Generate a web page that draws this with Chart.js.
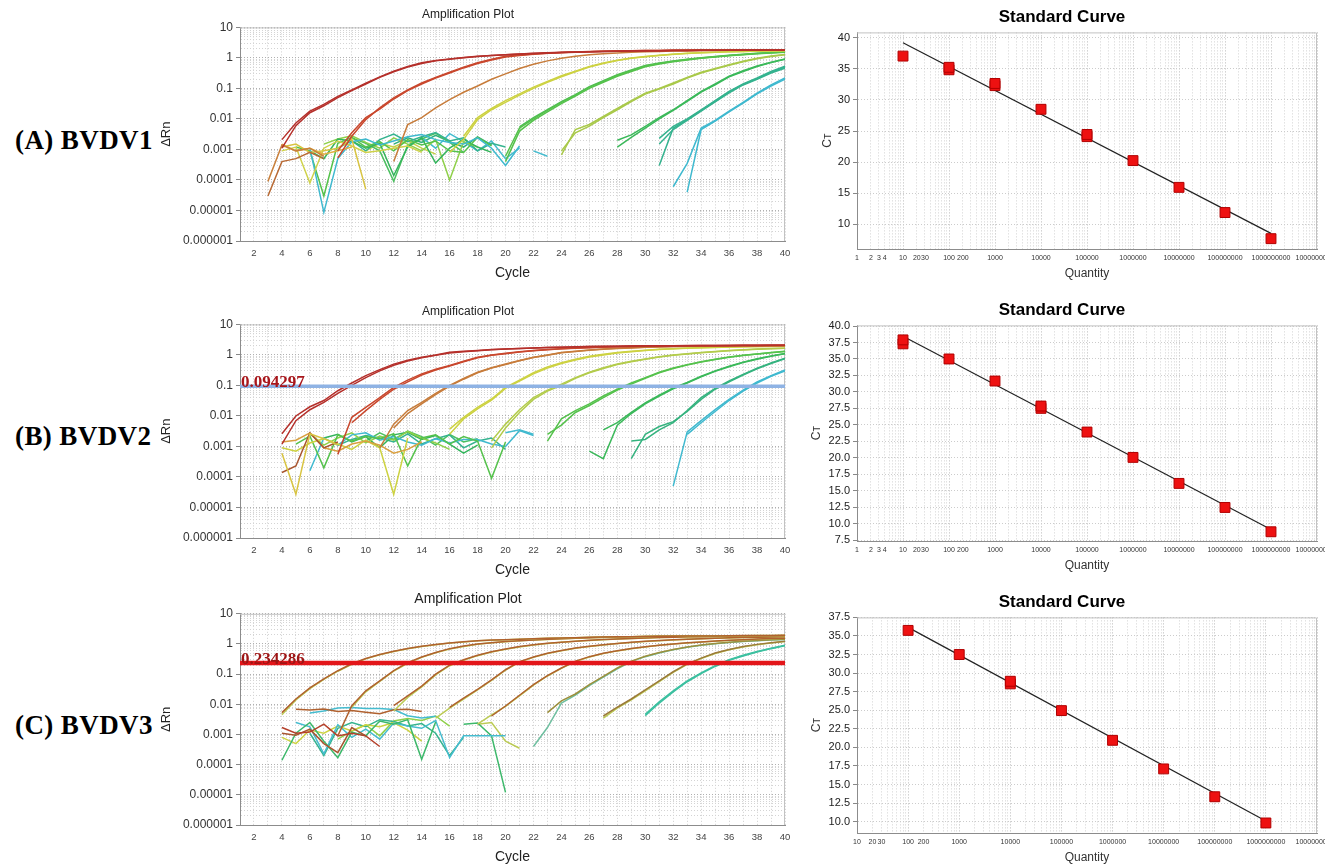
<!DOCTYPE html>
<html>
<head>
<meta charset="utf-8">
<title>BVDV qPCR</title>
<script src="https://cdn.jsdelivr.net/npm/chart.js@4.4.1/dist/chart.umd.min.js"></script>
<style>
html, body { margin: 0; padding: 0; background: #fff; width: 1325px; height: 865px; overflow: hidden; }
canvas { position: absolute; }
.panel { position: absolute; left: 15px; font: bold 27px "Liberation Serif", "Times New Roman", serif; line-height: 30px; color: #000; white-space: nowrap; letter-spacing: 0.4px; }
</style>
</head>
<body>
<div class="panel" style="top:125px">(A) BVDV1</div>
<div class="panel" style="top:421px">(B) BVDV2</div>
<div class="panel" style="top:710px">(C) BVDV3</div>
<canvas id="ampA" width="646" height="286" style="left:151px;top:0px"></canvas>
<canvas id="ampB" width="646" height="286" style="left:151px;top:297px"></canvas>
<canvas id="ampC" width="646" height="286" style="left:151px;top:584px"></canvas>
<canvas id="stdA" width="519" height="290" style="left:806px;top:0px"></canvas>
<canvas id="stdB" width="519" height="289" style="left:806px;top:293px"></canvas>
<canvas id="stdC" width="519" height="289" style="left:806px;top:585px"></canvas>
<script>
// amplification plot axes
const cycleMin = 1, cycleMax = 40;
const drnTicks = [10, 1, 0.1, 0.01, 0.001, 0.0001, 0.00001, 0.000001];

// thresholds
const thrB = 0.094297;
const thrC = 0.234286;

// curves: [colour, first cycle, delta Rn for each cycle from there]
const ampA = [
  ['#b5302b', 4, [0.0021, 0.0074, 0.018, 0.03, 0.055, 0.09, 0.15, 0.24, 0.37, 0.52, 0.69, 0.82, 0.93, 1.03, 1.13, 1.21, 1.28, 1.35, 1.41, 1.47, 1.52, 1.56, 1.6, 1.63, 1.66, 1.69, 1.71, 1.73, 1.75, 1.76, 1.77, 1.78, 1.79, 1.8, 1.8, 1.81, 1.81]],
  ['#b5302b', 4, [0.0011, 0.006, 0.016, 0.027, 0.05, 0.085, 0.14, 0.23, 0.35, 0.5, 0.66, 0.8, 0.91, 1.01, 1.11, 1.19, 1.27, 1.34, 1.4, 1.46, 1.51, 1.55, 1.59, 1.62, 1.65, 1.68, 1.7, 1.72, 1.74, 1.76, 1.77, 1.78, 1.79, 1.8, 1.81, 1.82, 1.82]],
  ['#c9472d', 8, [0.00053, 0.0027, 0.0095, 0.023, 0.049, 0.09, 0.15, 0.23, 0.34, 0.5, 0.69, 0.9, 1.13, 1.25, 1.35, 1.43, 1.5, 1.56, 1.61, 1.65, 1.69, 1.72, 1.74, 1.76, 1.78, 1.8, 1.81, 1.82, 1.83, 1.84, 1.85, 1.85, 1.86]],
  ['#c9472d', 8, [0.0009, 0.0035, 0.011, 0.021, 0.045, 0.085, 0.14, 0.22, 0.32, 0.47, 0.66, 0.86, 1.08, 1.21, 1.32, 1.41, 1.48, 1.54, 1.6, 1.64, 1.68, 1.71, 1.74, 1.76, 1.78, 1.79, 1.81, 1.82, 1.83, 1.84, 1.84, 1.85, 1.85]],
  ['#c77c3b', 12, [0.0004, 0.0065, 0.011, 0.023, 0.043, 0.075, 0.12, 0.2, 0.3, 0.45, 0.62, 0.8, 0.98, 1.13, 1.26, 1.36, 1.45, 1.52, 1.58, 1.63, 1.67, 1.7, 1.73, 1.75, 1.77, 1.79, 1.8, 1.81, 1.82]],
  ['#cdd242', 16, [0.0008, 0.0021, 0.0095, 0.02, 0.035, 0.06, 0.1, 0.16, 0.24, 0.35, 0.5, 0.66, 0.82, 0.97, 1.1, 1.21, 1.31, 1.4, 1.47, 1.53, 1.58, 1.62, 1.66, 1.69, 1.72]],
  ['#cdd242', 17, [0.0027, 0.011, 0.022, 0.04, 0.066, 0.11, 0.17, 0.26, 0.37, 0.52, 0.68, 0.84, 0.99, 1.12, 1.23, 1.33, 1.41, 1.48, 1.54, 1.59, 1.63, 1.67, 1.7, 1.73]],
  ['#55c24c', 20, [0.0006, 0.005, 0.01, 0.019, 0.035, 0.06, 0.11, 0.17, 0.27, 0.38, 0.54, 0.66, 0.78, 0.89, 1.0, 1.1, 1.2, 1.3, 1.4, 1.48, 1.55]],
  ['#55c24c', 20, [0.0004, 0.004, 0.009, 0.017, 0.032, 0.056, 0.1, 0.16, 0.25, 0.36, 0.51, 0.63, 0.75, 0.86, 0.97, 1.07, 1.17, 1.27, 1.37, 1.45, 1.52]],
  ['#4dbd55', 21, [0.0055, 0.011, 0.02, 0.037, 0.063, 0.115, 0.18, 0.28, 0.4, 0.56, 0.68, 0.8, 0.91, 1.02, 1.12, 1.22, 1.32, 1.42, 1.5, 1.57]],
  ['#a9c94a', 24, [0.00066, 0.0045, 0.0066, 0.012, 0.022, 0.04, 0.07, 0.1, 0.15, 0.23, 0.34, 0.45, 0.6, 0.78, 0.98, 1.15, 1.3]],
  ['#a9c94a', 24, [0.0009, 0.0035, 0.0058, 0.011, 0.02, 0.037, 0.065, 0.095, 0.14, 0.22, 0.32, 0.43, 0.57, 0.75, 0.94, 1.11, 1.27]],
  ['#3bb95a', 28, [0.002, 0.003, 0.0057, 0.011, 0.02, 0.04, 0.08, 0.14, 0.25, 0.38, 0.54, 0.72, 0.92]],
  ['#3bb95a', 28, [0.0012, 0.0025, 0.005, 0.01, 0.019, 0.038, 0.076, 0.13, 0.24, 0.36, 0.52, 0.7, 0.9]],
  ['#35b38f', 31, [0.0023, 0.0057, 0.01, 0.02, 0.04, 0.08, 0.14, 0.22, 0.36, 0.54]],
  ['#35b38f', 31, [0.0015, 0.0045, 0.009, 0.018, 0.036, 0.072, 0.13, 0.2, 0.32, 0.46]],
  ['#35b38f', 31, [0.0003, 0.005, 0.0095, 0.019, 0.038, 0.075, 0.135, 0.21, 0.34, 0.5]],
  ['#3fb9cf', 32, [0.00006, 0.00035, 0.005, 0.009, 0.018, 0.035, 0.07, 0.13, 0.22]],
  ['#3fb9cf', 33, [0.00004, 0.0045, 0.0085, 0.017, 0.033, 0.066, 0.12, 0.2]]
];
const noiseA = [
  ['#c9803c', 3, [0.00009, 0.0014, 0.0009, 0.0011, 0.0006]],
  ['#b86a35', 3, [0.00003, 0.0004, 0.0005, 0.0008, 0.0005]],
  ['#d8c442', 4, [0.0012, 0.0015, 0.0008, 0.0009, 0.0011, 0.0022, 0.00005]],
  ['#e0b040', 4, [0.0015, 0.0009, 0.0011, 0.0007, 0.0009, 0.0012]],
  ['#cfd24a', 4, [0.0009, 0.0012, 0.00008, 0.0011, 0.0019, 0.0013, 0.0008, 0.0009, 0.0011, 0.0013, 0.0008]],
  ['#3fb9cf', 6, [0.0011, 0.0000087, 0.0005, 0.0018, 0.0022, 0.0014, 0.0019, 0.0026, 0.0031, 0.0021, 0.0017, 0.0015, 0.0024, 0.0011, 0.0003, 0.0013]],
  ['#55c24c', 5, [0.0012, 0.0009, 0.00003, 0.0016, 0.0025, 0.0012, 0.0018, 0.0009, 0.0021, 0.0014, 0.0019, 0.0009, 0.0008, 0.0025, 0.0013]],
  ['#34b45c', 6, [0.0009, 0.0005, 0.0022, 0.0019, 0.0011, 0.0016, 0.00014, 0.0012, 0.0024, 0.00036, 0.0011, 0.0022, 0.0012, 0.0008]],
  ['#8fd04a', 7, [0.0015, 0.0022, 0.0028, 0.0017, 0.0011, 0.0024, 0.0015, 0.0009, 0.0021, 0.0001, 0.0018, 0.0012]],
  ['#35b38f', 8, [0.0011, 0.0019, 0.0009, 0.0021, 0.0032, 0.0018, 0.0026, 0.0036, 0.0019, 0.0024, 0.0009, 0.0016, 0.0012]],
  ['#4cc060', 9, [0.0024, 0.0016, 0.0009, 0.00009, 0.0014, 0.0022, 0.0034, 0.0017, 0.0008]],
  ['#45bccf', 14, [0.0025, 0.0011, 0.0033, 0.0018, 0.0009, 0.0019, 0.0005, 0.0011]],
  ['#45bccf', 22, [0.0009, 0.0006]],
  ['#c5d048', 10, [0.0009, 0.0016, 0.0012, 0.0019, 0.0011, 0.0007]],
  ['#2fae7a', 12, [0.0015, 0.0024, 0.0017, 0.0029, 0.0018, 0.0012, 0.0026, 0.0014]]
];

const ampB = [
  ['#b5302b', 4, [0.0026, 0.01, 0.02, 0.032, 0.067, 0.12, 0.21, 0.33, 0.5, 0.67, 0.84, 1.0, 1.22, 1.32, 1.4, 1.5, 1.57, 1.63, 1.7, 1.75, 1.8, 1.84, 1.88, 1.91, 1.94, 1.96, 1.98, 2.0, 2.01, 2.02, 2.03, 2.04, 2.05, 2.06, 2.06, 2.07, 2.07]],
  ['#b5302b', 4, [0.0012, 0.007, 0.016, 0.028, 0.055, 0.1, 0.18, 0.3, 0.46, 0.63, 0.8, 0.97, 1.15, 1.28, 1.38, 1.47, 1.55, 1.62, 1.68, 1.74, 1.79, 1.83, 1.87, 1.9, 1.93, 1.95, 1.97, 1.99, 2.0, 2.01, 2.02, 2.03, 2.04, 2.05, 2.05, 2.06, 2.06]],
  ['#c9472d', 8, [0.00055, 0.009, 0.019, 0.04, 0.087, 0.15, 0.24, 0.34, 0.45, 0.62, 0.84, 1.0, 1.13, 1.27, 1.4, 1.5, 1.6, 1.68, 1.75, 1.8, 1.85, 1.89, 1.92, 1.95, 1.97, 1.99, 2.0, 2.01, 2.02, 2.03, 2.04, 2.05, 2.05]],
  ['#c9472d', 9, [0.006, 0.015, 0.035, 0.075, 0.13, 0.22, 0.32, 0.43, 0.6, 0.8, 0.97, 1.1, 1.25, 1.38, 1.48, 1.58, 1.66, 1.73, 1.79, 1.84, 1.88, 1.91, 1.94, 1.96, 1.98, 1.99, 2.0, 2.01, 2.02, 2.03, 2.04, 2.04]],
  ['#c77c3b', 11, [0.0009, 0.0054, 0.015, 0.028, 0.055, 0.1, 0.17, 0.27, 0.38, 0.5, 0.66, 0.84, 1.0, 1.2, 1.33, 1.45, 1.55, 1.64, 1.72, 1.79, 1.84, 1.88, 1.92, 1.95, 1.97, 1.99, 2.0, 2.01, 2.02, 2.03]],
  ['#c77c3b', 12, [0.004, 0.012, 0.025, 0.05, 0.095, 0.16, 0.26, 0.37, 0.48, 0.64, 0.82, 0.98, 1.17, 1.3, 1.43, 1.53, 1.62, 1.7, 1.77, 1.82, 1.87, 1.91, 1.94, 1.96, 1.98, 1.99, 2.0, 2.01, 2.02]],
  ['#cdd242', 16, [0.0037, 0.009, 0.019, 0.036, 0.087, 0.15, 0.26, 0.4, 0.55, 0.72, 0.9, 1.05, 1.2, 1.32, 1.43, 1.52, 1.6, 1.67, 1.73, 1.78, 1.82, 1.86, 1.89, 1.91, 1.93]],
  ['#cdd242', 16, [0.0025, 0.008, 0.017, 0.033, 0.08, 0.14, 0.24, 0.37, 0.52, 0.68, 0.86, 1.0, 1.15, 1.28, 1.4, 1.5, 1.58, 1.65, 1.71, 1.76, 1.8, 1.84, 1.87, 1.9, 1.92]],
  ['#b3cc4c', 19, [0.0015, 0.0054, 0.016, 0.04, 0.07, 0.11, 0.18, 0.27, 0.38, 0.5, 0.62, 0.74, 0.87, 1.0, 1.1, 1.2, 1.3, 1.4, 1.48, 1.55, 1.62, 1.66]],
  ['#b3cc4c', 19, [0.0009, 0.004, 0.013, 0.035, 0.065, 0.1, 0.17, 0.26, 0.36, 0.48, 0.6, 0.72, 0.85, 0.98, 1.08, 1.18, 1.28, 1.38, 1.46, 1.53, 1.6, 1.65]],
  ['#55c24c', 23, [0.0015, 0.008, 0.015, 0.025, 0.045, 0.075, 0.12, 0.18, 0.27, 0.37, 0.48, 0.6, 0.72, 0.85, 0.97, 1.08, 1.2, 1.32]],
  ['#55c24c', 23, [0.0025, 0.005, 0.013, 0.022, 0.04, 0.07, 0.11, 0.17, 0.26, 0.36, 0.47, 0.59, 0.71, 0.84, 0.96, 1.07, 1.18, 1.3]],
  ['#3bb95a', 26, [0.0007, 0.0004, 0.005, 0.012, 0.025, 0.045, 0.078, 0.12, 0.19, 0.29, 0.41, 0.56, 0.72, 0.9, 1.1]],
  ['#3bb95a', 27, [0.0035, 0.006, 0.013, 0.027, 0.048, 0.082, 0.125, 0.2, 0.3, 0.43, 0.58, 0.75, 0.93, 1.12]],
  ['#35b37f', 29, [0.0004, 0.0025, 0.0045, 0.0065, 0.014, 0.035, 0.075, 0.13, 0.22, 0.35, 0.52, 0.75]],
  ['#35b37f', 29, [0.0015, 0.0017, 0.0035, 0.006, 0.015, 0.04, 0.08, 0.14, 0.23, 0.37, 0.55, 0.78]],
  ['#3fb9cf', 32, [0.00005, 0.003, 0.007, 0.016, 0.035, 0.07, 0.13, 0.21, 0.32]],
  ['#3fb9cf', 33, [0.0025, 0.006, 0.014, 0.032, 0.065, 0.12, 0.2, 0.3]]
];
const noiseB = [
  ['#d8c442', 4, [0.0006, 0.000027, 0.0026, 0.0018, 0.0011]],
  ['#a8552f', 4, [0.00014, 0.00023, 0.0028, 0.0009, 0.0014]],
  ['#d9a040', 4, [0.0014, 0.0016, 0.0028, 0.0009, 0.0007, 0.0012, 0.0015, 0.0011, 0.0006, 0.0008, 0.0014]],
  ['#cdd242', 4, [0.0009, 0.0007, 0.0013, 0.0018, 0.0012, 0.0008, 0.0016, 0.0009, 0.000027, 0.0019]],
  ['#55c24c', 5, [0.0012, 0.0022, 0.0002, 0.0024, 0.0015, 0.0021, 0.0018, 0.0026, 0.00023, 0.0019, 0.0024, 0.0012, 0.0021, 0.0015, 0.00009, 0.0014]],
  ['#3fb9cf', 6, [0.00016, 0.0019, 0.0011, 0.0024, 0.0028, 0.0016, 0.0021, 0.0014, 0.0011, 0.0018, 0.0013, 0.0017, 0.0017, 0.0012, 0.001, 0.0033, 0.0023]],
  ['#8fd04a', 6, [0.0026, 0.0011, 0.0019, 0.0028, 0.0013, 0.0022, 0.0016, 0.0031, 0.0019, 0.0013, 0.0008]],
  ['#34b45c', 7, [0.0019, 0.0025, 0.0014, 0.0021, 0.0009, 0.0024, 0.0029, 0.0017, 0.0023, 0.0012, 0.0006, 0.0011]],
  ['#35b38f', 8, [0.0011, 0.0017, 0.0023, 0.0019, 0.0014, 0.0026, 0.0012, 0.0018, 0.0024, 0.0009, 0.0015, 0.0019, 0.0008]],
  ['#4cc060', 10, [0.0015, 0.0028, 0.0017, 0.0032, 0.0021, 0.0011, 0.0025, 0.0014, 0.0018]],
  ['#45bccf', 20, [0.0028, 0.0035, 0.0025]]
];

const ampC = [
  ['#b0612f', 4, [0.0053, 0.015, 0.035, 0.07, 0.13, 0.22, 0.33, 0.45, 0.57, 0.71, 0.84, 0.96, 1.08, 1.18, 1.29, 1.35, 1.39, 1.44, 1.49, 1.54, 1.58, 1.62, 1.66, 1.69, 1.72, 1.75, 1.77, 1.79, 1.81, 1.83, 1.84, 1.85, 1.86, 1.87, 1.88, 1.89, 1.9]],
  ['#bccb55', 4, [0.0045, 0.014, 0.033, 0.067, 0.125, 0.21, 0.32, 0.44, 0.56, 0.7, 0.83, 0.95, 1.07, 1.17, 1.28, 1.34, 1.39, 1.44, 1.49, 1.54, 1.58, 1.62, 1.66, 1.69, 1.72, 1.75, 1.77, 1.79, 1.81, 1.83, 1.84, 1.85, 1.86, 1.87, 1.88, 1.89, 1.9]],
  ['#b0612f', 8, [0.0009, 0.009, 0.028, 0.06, 0.13, 0.24, 0.37, 0.52, 0.7, 0.85, 1.0, 1.1, 1.2, 1.28, 1.36, 1.43, 1.5, 1.56, 1.61, 1.66, 1.7, 1.74, 1.77, 1.8, 1.82, 1.84, 1.86, 1.88, 1.89, 1.9, 1.91, 1.92, 1.93]],
  ['#bccb55', 9, [0.008, 0.026, 0.058, 0.125, 0.23, 0.36, 0.51, 0.68, 0.83, 0.98, 1.09, 1.19, 1.27, 1.35, 1.42, 1.49, 1.55, 1.6, 1.65, 1.69, 1.73, 1.76, 1.79, 1.81, 1.83, 1.85, 1.87, 1.88, 1.89, 1.9, 1.91, 1.92]],
  ['#b0612f', 12, [0.009, 0.019, 0.04, 0.1, 0.2, 0.3, 0.42, 0.55, 0.68, 0.82, 0.95, 1.05, 1.15, 1.24, 1.32, 1.4, 1.47, 1.53, 1.59, 1.64, 1.68, 1.72, 1.75, 1.78, 1.8, 1.82, 1.84, 1.85, 1.86]],
  ['#bccb55', 12, [0.006, 0.017, 0.038, 0.095, 0.19, 0.29, 0.41, 0.54, 0.67, 0.8, 0.93, 1.04, 1.14, 1.23, 1.31, 1.39, 1.46, 1.52, 1.58, 1.63, 1.67, 1.71, 1.74, 1.77, 1.79, 1.81, 1.83, 1.84, 1.85]],
  ['#b0612f', 16, [0.0079, 0.016, 0.031, 0.065, 0.14, 0.26, 0.37, 0.49, 0.61, 0.73, 0.84, 0.94, 1.04, 1.13, 1.22, 1.3, 1.37, 1.44, 1.5, 1.55, 1.6, 1.64, 1.68, 1.71, 1.74]],
  ['#bccb55', 15, [0.0035, 0.0075, 0.015, 0.03, 0.062, 0.135, 0.25, 0.36, 0.48, 0.6, 0.72, 0.83, 0.93, 1.03, 1.12, 1.21, 1.29, 1.36, 1.43, 1.49, 1.54, 1.59, 1.63, 1.67, 1.7, 1.73]],
  ['#b0612f', 19, [0.0041, 0.0088, 0.02, 0.045, 0.09, 0.16, 0.27, 0.38, 0.49, 0.6, 0.71, 0.81, 0.91, 1.0, 1.09, 1.17, 1.25, 1.32, 1.39, 1.45, 1.51, 1.56]],
  ['#bccb55', 18, [0.0022, 0.0045, 0.0085, 0.019, 0.043, 0.087, 0.155, 0.26, 0.37, 0.48, 0.59, 0.7, 0.8, 0.9, 0.99, 1.08, 1.16, 1.24, 1.31, 1.38, 1.44, 1.5, 1.55]],
  ['#9c8f3c', 23, [0.0053, 0.013, 0.022, 0.045, 0.085, 0.16, 0.27, 0.39, 0.52, 0.66, 0.8, 0.92, 1.03, 1.13, 1.22, 1.3, 1.37, 1.43]],
  ['#6fbfa0', 22, [0.0004, 0.0017, 0.011, 0.02, 0.042, 0.08, 0.15, 0.26, 0.38, 0.5, 0.64, 0.78, 0.9, 1.01, 1.11, 1.2, 1.28, 1.35, 1.41]],
  ['#9c7a3a', 27, [0.0041, 0.008, 0.015, 0.03, 0.06, 0.12, 0.22, 0.34, 0.5, 0.66, 0.82, 0.97, 1.1, 1.22]],
  ['#bccb55', 27, [0.0035, 0.0075, 0.014, 0.028, 0.057, 0.115, 0.21, 0.33, 0.48, 0.64, 0.8, 0.95, 1.08, 1.2]],
  ['#3cc0a0', 30, [0.0047, 0.012, 0.028, 0.06, 0.11, 0.19, 0.3, 0.42, 0.56, 0.72, 0.9]],
  ['#3cc0a0', 30, [0.0042, 0.011, 0.026, 0.056, 0.105, 0.18, 0.29, 0.4, 0.54, 0.7, 0.88]]
];
const noiseC = [
  ['#b0612f', 5, [0.0068, 0.0065, 0.007, 0.0058, 0.0062, 0.0055, 0.0049, 0.0066, 0.0068, 0.0058]],
  ['#45bccf', 6, [0.0052, 0.006, 0.0075, 0.0078, 0.0072, 0.0073, 0.0067, 0.0042, 0.0035, 0.004]],
  ['#b5402b', 4, [0.0017, 0.0011, 0.0012, 0.0022, 0.0009, 0.0011, 0.0009, 0.0004]],
  ['#a8552f', 4, [0.0011, 0.00095, 0.0015, 0.0005, 0.00025, 0.0017, 0.0009]],
  ['#3cb86a', 4, [0.00014, 0.0011, 0.0025, 0.0006, 0.00017, 0.0012, 0.0009, 0.0028, 0.0022, 0.0031, 0.00015, 0.0026]],
  ['#45bccf', 5, [0.0025, 0.0018, 0.00023, 0.0021, 0.0008, 0.0015, 0.0007, 0.0024, 0.0019, 0.0016, 0.0029, 0.00017, 0.0009, 0.0009, 0.0009, 0.0009]],
  ['#cdd242', 4, [0.0008, 0.0005, 0.0014, 0.0011, 0.0019, 0.0013, 0.0021, 0.0018, 0.0025, 0.0014, 0.0006]],
  ['#35b38f', 6, [0.0011, 0.0002, 0.0016, 0.0025, 0.0018, 0.0031, 0.0027, 0.0019, 0.0023, 0.0011, 0.0002, 0.0008]],
  ['#3cb86a', 17, [0.0022, 0.0024, 0.0009, 0.000012]],
  ['#bccb55', 18, [0.0022, 0.0025, 0.0006, 0.00035]],
  ['#8fd04a', 8, [0.0007, 0.0013, 0.0021, 0.0009, 0.0028, 0.0034, 0.0029, 0.0041, 0.0019]]
];

// standard curves
const qtyA = [10, 100, 100, 1000, 1000, 10000, 100000, 100000, 1000000, 10000000, 100000000, 1000000000];
const ctA = [37.05, 34.85, 35.25, 32.3, 32.65, 28.5, 24.1, 24.45, 20.25, 15.95, 11.9, 7.7];
const fitQtyA = [10, 1000000000];
const fitCtA = [39.2, 8.55];
const ctTicksA = [10, 15, 20, 25, 30, 35, 40];

const qtyB = [10, 10, 100, 1000, 10000, 10000, 100000, 1000000, 10000000, 100000000, 1000000000];
const ctB = [37.3, 37.9, 35.0, 31.65, 27.5, 27.85, 23.9, 20.05, 16.1, 12.45, 8.75];
const fitQtyB = [10, 1000000000];
const fitCtB = [38.45, 9.1];
const ctTicksB = [7.5, 10, 12.5, 15, 17.5, 20, 22.5, 25, 27.5, 30, 32.5, 35, 37.5, 40];

const qtyC = [100, 1000, 10000, 10000, 100000, 1000000, 10000000, 100000000, 1000000000];
const ctC = [35.75, 32.5, 28.55, 28.9, 24.95, 20.95, 17.1, 13.35, 9.82];
const fitQtyC = [100, 1000000000];
const fitCtC = [36.16, 10.09];
const ctTicksC = [10, 12.5, 15, 17.5, 20, 22.5, 25, 27.5, 30, 32.5, 35, 37.5];

const qtyLabelsAB = [1, 2, 3, 4, 10, 20, 30, 100, 200, 1000, 10000, 100000, 1000000, 10000000, 100000000, 1000000000, 10000000000];
const qtyLabelsC = [10, 20, 30, 100, 200, 1000, 10000, 100000, 1000000, 10000000, 100000000, 1000000000, 10000000000];

Chart.defaults.font.family = '"Liberation Sans", Arial, sans-serif';
Chart.defaults.color = '#333';

function logTicks(lo, hi) {
  const t = [];
  for (let k = lo; k < hi; k++) {
    for (let m = 1; m <= 9; m++) t.push({ value: m * Math.pow(10, k), major: m === 1 });
  }
  t.push({ value: Math.pow(10, hi), major: true });
  return t;
}

function drnLabel(v) {
  const e = Math.round(Math.log10(v));
  return e >= 0 ? String(Math.pow(10, e)) : Math.pow(10, e).toFixed(-e);
}

// light top/right edge of the plot box
const frame = {
  id: 'frame',
  beforeDatasetsDraw(chart) {
    const { ctx, chartArea: a } = chart;
    ctx.save();
    ctx.strokeStyle = '#c2c2c2';
    ctx.lineWidth = 1;
    ctx.beginPath();
    ctx.moveTo(a.left, a.top + 0.5);
    ctx.lineTo(a.right - 0.5, a.top + 0.5);
    ctx.lineTo(a.right - 0.5, a.bottom);
    ctx.stroke();
    ctx.restore();
  }
};

function thrLabel(value, color) {
  return {
    id: 'thrLabel',
    afterDatasetsDraw(chart) {
      const ctx = chart.ctx;
      const y = chart.scales.y.getPixelForValue(value);
      ctx.save();
      ctx.font = 'bold 17px "Liberation Serif", serif';
      ctx.fillStyle = color;
      ctx.textBaseline = 'alphabetic';
      ctx.fillText(String(value), chart.chartArea.left + 1, y + 1);
      ctx.restore();
    }
  };
}

function ampChart(id, curves, noise, o) {
  const datasets = [];
  if (o.thr) {
    datasets.push({ data: [{ x: cycleMin, y: o.thr }, { x: cycleMax, y: o.thr }], borderColor: o.thrColor, borderWidth: o.thrWidth, pointRadius: 0 });
  }
  curves.concat(noise).forEach(([c, s, v]) => {
    datasets.push({ data: v.map((y, i) => ({ x: s + i, y: y })), borderColor: c, borderWidth: 1.5, pointRadius: 0 });
  });
  const plugins = [frame];
  if (o.thr) plugins.push(thrLabel(o.thr, o.labelColor));
  const lo = Math.round(Math.log10(Math.min(...drnTicks)));
  const hi = Math.round(Math.log10(Math.max(...drnTicks)));

  new Chart(document.getElementById(id), {
    type: 'line',
    data: { datasets: datasets },
    options: {
      responsive: false,
      animation: false,
      events: [],
      layout: { padding: { left: 0, right: 12, top: 0, bottom: 0 } },
      plugins: {
        legend: { display: false },
        tooltip: { enabled: false },
        title: { display: true, text: 'Amplification Plot', color: '#222', font: { size: o.titleSize, weight: 'normal' }, padding: { top: 7, bottom: 6 } }
      },
      scales: {
        x: {
          type: 'linear', min: cycleMin, max: cycleMax,
          afterBuildTicks: s => { s.ticks = []; for (let c = cycleMin; c <= cycleMax; c++) s.ticks.push({ value: c }); },
          afterFit: s => { s.height = 45; s.paddingLeft = 0; s.paddingRight = 0; },
          ticks: { autoSkip: false, maxRotation: 0, padding: 7, font: { size: 9.5 }, color: '#444', callback: v => (v % 2 === 0 ? String(v) : '') },
          grid: { color: '#cfcfcf', drawTicks: false },
          border: { display: true, color: '#8c8c8c', dash: [1, 2] },
          title: { display: true, text: 'Cycle', color: '#222', font: { size: 14 }, padding: { top: 0, bottom: 4 } }
        },
        y: {
          type: 'logarithmic', min: Math.pow(10, lo), max: Math.pow(10, hi),
          afterBuildTicks: s => { s.ticks = logTicks(lo, hi); },
          afterFit: s => { s.width = 89; s.paddingTop = 0; s.paddingBottom = 0; },
          ticks: { autoSkip: false, padding: 3, font: { size: 12 }, color: '#333', callback: (v, i, t) => (t[i].major ? drnLabel(v) : '') },
          grid: {
            color: c => (c.tick && c.tick.major ? '#b0b0b0' : '#d4d4d4'),
            drawTicks: true, tickLength: 4,
            tickColor: c => (c.tick && c.tick.major ? '#888' : 'rgba(0,0,0,0)')
          },
          border: { display: true, color: '#8c8c8c', dash: [1, 2] },
          title: { display: true, text: 'ΔRn', color: '#222', font: { size: 13 }, padding: { top: 8, bottom: 0 } }
        }
      }
    },
    plugins: plugins
  });
}

function stdChart(id, o) {
  const lo = Math.round(Math.log10(o.qMin));
  new Chart(document.getElementById(id), {
    type: 'scatter',
    data: {
      datasets: [
        { data: o.qty.map((q, i) => ({ x: q, y: o.ct[i] })), pointStyle: 'rect', pointRadius: 7, backgroundColor: '#ee1111', borderColor: '#b00000', borderWidth: 1 },
        { data: o.fitQty.map((q, i) => ({ x: q, y: o.fitCt[i] })), showLine: true, borderColor: '#222', borderWidth: 1.2, pointRadius: 0 }
      ]
    },
    options: {
      responsive: false,
      animation: false,
      events: [],
      layout: { padding: { left: 0, right: 7, top: 0, bottom: 0 } },
      plugins: {
        legend: { display: false },
        tooltip: { enabled: false },
        title: { display: true, text: 'Standard Curve', color: '#000', font: { size: 17, weight: 'bold' }, padding: { top: 7, bottom: 5 } }
      },
      scales: {
        x: {
          type: 'logarithmic', min: o.qMin, max: 10000000000,
          afterBuildTicks: s => { s.ticks = logTicks(lo, 10); },
          afterFit: s => { s.height = 41; s.paddingLeft = 0; s.paddingRight = 0; },
          ticks: { autoSkip: false, maxRotation: 0, padding: 5, font: { size: 7 }, color: '#333', callback: v => (o.qtyLabels.includes(v) ? String(v) : '') },
          grid: { color: c => (c.tick && c.tick.major ? '#b8b8b8' : '#d2d2d2'), drawTicks: false },
          border: { display: true, color: '#8c8c8c', dash: [1, 2] },
          title: { display: true, text: 'Quantity', color: '#333', font: { size: 12 }, padding: { top: 0, bottom: 8.8 } }
        },
        y: {
          type: 'linear', min: o.yMin, max: o.yMax,
          afterBuildTicks: s => { s.ticks = o.ctTicks.map(v => ({ value: v })); },
          afterFit: s => { s.width = 51; s.paddingTop = 0; s.paddingBottom = 0; },
          ticks: { padding: 3, font: { size: 11 }, color: '#222', callback: v => v.toFixed(o.dec) },
          grid: { color: '#cccccc', drawTicks: true, tickLength: 4, tickColor: '#888' },
          border: { display: true, color: '#8c8c8c', dash: [1, 2] },
          title: { display: true, text: 'Cᴛ', color: '#333', font: { size: 12 }, padding: { top: o.titlePad, bottom: 0 } }
        }
      }
    },
    plugins: [frame]
  });
}

ampChart('ampA', ampA, noiseA, { titleSize: 12 });
ampChart('ampB', ampB, noiseB, { titleSize: 12, thr: thrB, thrColor: '#8fb3e4', thrWidth: 3.5, labelColor: '#a8161b' });
ampChart('ampC', ampC, noiseC, { titleSize: 14, thr: thrC, thrColor: '#e3161a', thrWidth: 4.5, labelColor: '#9e1515' });

stdChart('stdA', { qty: qtyA, ct: ctA, fitQty: fitQtyA, fitCt: fitCtA, ctTicks: ctTicksA, yMin: 6.04, yMax: 40.86, dec: 0, qMin: 1, qtyLabels: qtyLabelsAB, titlePad: 14.8 });
stdChart('stdB', { qty: qtyB, ct: ctB, fitQty: fitQtyB, fitCt: fitCtB, ctTicks: ctTicksB, yMin: 7.35, yMax: 40.1, dec: 1, qMin: 1, qtyLabels: qtyLabelsAB, titlePad: 3.8 });
stdChart('stdC', { qty: qtyC, ct: ctC, fitQty: fitQtyC, fitCt: fitCtC, ctTicks: ctTicksC, yMin: 8.47, yMax: 37.5, dec: 1, qMin: 10, qtyLabels: qtyLabelsC, titlePad: 3.8 });
</script>
</body>
</html>
